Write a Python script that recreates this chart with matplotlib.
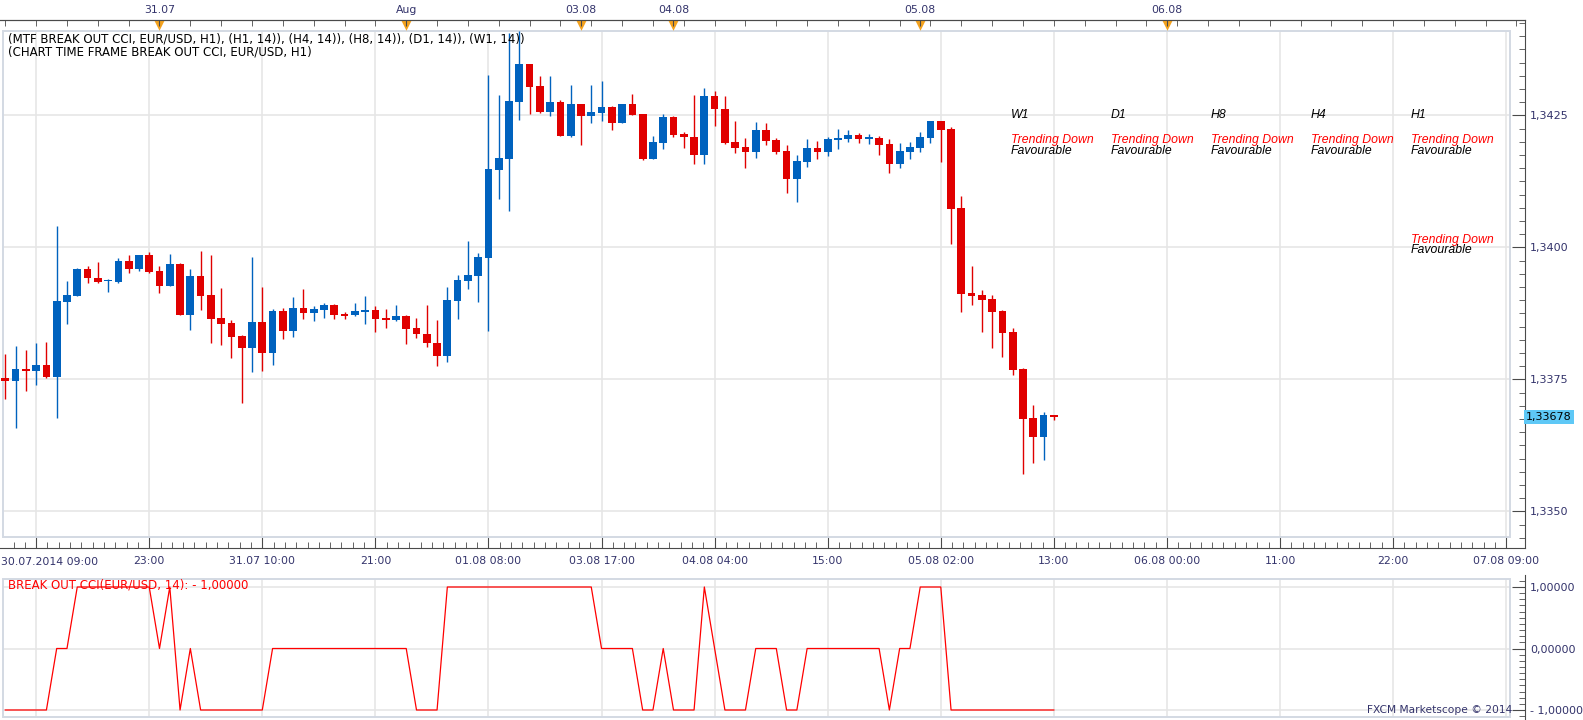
import matplotlib
matplotlib.use('Agg')
import matplotlib.pyplot as plt
import matplotlib.transforms as mtransforms
from matplotlib.patches import Rectangle
from matplotlib.ticker import FixedLocator, MultipleLocator
import numpy as np

# EUR/USD H1 candles (bar index 0..102)
opens = [1.33753, 1.33746, 1.33770, 1.33765, 1.33777, 1.33754, 1.33897, 1.33908, 1.33959, 1.33942,
         1.33936, 1.33935, 1.33974, 1.33958, 1.33985, 1.33955, 1.33927, 1.33968, 1.33872, 1.33946,
         1.33910, 1.33866, 1.33857, 1.33832, 1.33810, 1.33859, 1.33799, 1.33879, 1.33842, 1.33885,
         1.33876, 1.33882, 1.33891, 1.33874, 1.33871, 1.33878, 1.33881, 1.33866, 1.33863, 1.33870,
         1.33847, 1.33836, 1.33819, 1.33795, 1.33898, 1.33937, 1.33946, 1.33980, 1.34147, 1.34168,
         1.34276, 1.34347, 1.34306, 1.34257, 1.34275, 1.34211, 1.34271, 1.34249, 1.34255, 1.34266,
         1.34236, 1.34271, 1.34252, 1.34168, 1.34198, 1.34247, 1.34215, 1.34209, 1.34175, 1.34287,
         1.34262, 1.34199, 1.34190, 1.34181, 1.34222, 1.34203, 1.34182, 1.34130, 1.34162, 1.34188,
         1.34180, 1.34204, 1.34205, 1.34213, 1.34205, 1.34207, 1.34196, 1.34158, 1.34180, 1.34188,
         1.34207, 1.34239, 1.34224, 1.34074, 1.33913, 1.33910, 1.33902, 1.33879, 1.33840, 1.33770,
         1.33677, 1.33641, 1.33682]
closes = [1.33746, 1.33770, 1.33765, 1.33777, 1.33754, 1.33898, 1.33910, 1.33959, 1.33941, 1.33935,
          1.33937, 1.33974, 1.33958, 1.33985, 1.33954, 1.33927, 1.33968, 1.33872, 1.33946, 1.33908,
          1.33865, 1.33855, 1.33831, 1.33810, 1.33859, 1.33799, 1.33879, 1.33842, 1.33885, 1.33876,
          1.33883, 1.33891, 1.33872, 1.33870, 1.33879, 1.33881, 1.33865, 1.33863, 1.33870, 1.33846,
          1.33835, 1.33818, 1.33795, 1.33900, 1.33938, 1.33948, 1.33982, 1.34148, 1.34169, 1.34277,
          1.34347, 1.34304, 1.34257, 1.34275, 1.34211, 1.34271, 1.34249, 1.34256, 1.34266, 1.34236,
          1.34271, 1.34251, 1.34168, 1.34199, 1.34247, 1.34213, 1.34208, 1.34175, 1.34287, 1.34261,
          1.34198, 1.34189, 1.34181, 1.34222, 1.34202, 1.34181, 1.34130, 1.34163, 1.34188, 1.34180,
          1.34205, 1.34207, 1.34213, 1.34205, 1.34206, 1.34194, 1.34158, 1.34182, 1.34190, 1.34209,
          1.34239, 1.34222, 1.34073, 1.33912, 1.33908, 1.33900, 1.33878, 1.33838, 1.33768, 1.33675,
          1.33641, 1.33682, 1.33678]
highs = [1.33798, 1.33813, 1.33806, 1.33819, 1.33821, 1.34040, 1.33936, 1.33960, 1.33965, 1.33972,
         1.33940, 1.33980, 1.33985, 1.33986, 1.33991, 1.33965, 1.33987, 1.33970, 1.33959, 1.33993,
         1.33985, 1.33923, 1.33862, 1.33833, 1.33982, 1.33925, 1.33884, 1.33885, 1.33906, 1.33921,
         1.33889, 1.33894, 1.33892, 1.33878, 1.33895, 1.33908, 1.33889, 1.33884, 1.33891, 1.33871,
         1.33867, 1.33891, 1.33862, 1.33925, 1.33948, 1.34012, 1.33989, 1.34326, 1.34289, 1.34405,
         1.34410, 1.34348, 1.34324, 1.34324, 1.34279, 1.34307, 1.34272, 1.34307, 1.34315, 1.34267,
         1.34272, 1.34290, 1.34253, 1.34211, 1.34253, 1.34248, 1.34219, 1.34289, 1.34302, 1.34296,
         1.34287, 1.34239, 1.34207, 1.34237, 1.34235, 1.34207, 1.34194, 1.34174, 1.34205, 1.34201,
         1.34209, 1.34224, 1.34222, 1.34217, 1.34215, 1.34211, 1.34205, 1.34198, 1.34199, 1.34218,
         1.34240, 1.34240, 1.34228, 1.34097, 1.33965, 1.33919, 1.33910, 1.33881, 1.33847, 1.33771,
         1.33701, 1.33688, 1.33683]
lows = [1.33712, 1.33658, 1.33727, 1.33740, 1.33752, 1.33677, 1.33855, 1.33907, 1.33932, 1.33932,
        1.33915, 1.33932, 1.33952, 1.33955, 1.33952, 1.33914, 1.33926, 1.33871, 1.33843, 1.33881,
        1.33819, 1.33815, 1.33790, 1.33706, 1.33763, 1.33766, 1.33778, 1.33827, 1.33831, 1.33865,
        1.33861, 1.33867, 1.33865, 1.33865, 1.33870, 1.33855, 1.33840, 1.33848, 1.33861, 1.33816,
        1.33829, 1.33812, 1.33776, 1.33783, 1.33865, 1.33921, 1.33897, 1.33842, 1.34092, 1.34068,
        1.34242, 1.34253, 1.34255, 1.34249, 1.34210, 1.34208, 1.34194, 1.34236, 1.34240, 1.34223,
        1.34235, 1.34250, 1.34166, 1.34167, 1.34187, 1.34208, 1.34189, 1.34157, 1.34157, 1.34230,
        1.34196, 1.34179, 1.34151, 1.34170, 1.34194, 1.34177, 1.34102, 1.34086, 1.34152, 1.34167,
        1.34173, 1.34186, 1.34199, 1.34198, 1.34196, 1.34175, 1.34141, 1.34150, 1.34167, 1.34180,
        1.34198, 1.34162, 1.34006, 1.33878, 1.33891, 1.33840, 1.33809, 1.33792, 1.33758, 1.33571,
        1.33592, 1.33597, 1.33672]

# BREAK OUT CCI values per bar
cci = [-1, -1, -1, -1, -1, 0, 0, 1, 1, 1, 1, 1, 1, 1, 1, 0, 1, -1, 0, -1,
       -1, -1, -1, -1, -1, -1, 0, 0, 0, 0, 0, 0, 0, 0, 0, 0, 0, 0, 0, 0,
       -1, -1, -1, 1, 1, 1, 1, 1, 1, 1, 1, 1, 1, 1, 1, 1, 1, 1, 0, 0,
       0, 0, -1, -1, 0, -1, -1, -1, 1, 0, -1, -1, -1, 0, 0, 0, -1, -1, 0, 0,
       0, 0, 0, 0, 0, 0, -1, 0, 0, 1, 1, 1, -1, -1, -1, -1, -1, -1, -1, -1,
       -1, -1, -1]

time_labels = ['30.07.2014 09:00', '23:00', '31.07 10:00', '21:00', '01.08 08:00', '03.08 17:00',
               '04.08 04:00', '15:00', '05.08 02:00', '13:00', '06.08 00:00', '11:00', '22:00',
               '07.08 09:00']
time_bars = [3, 14, 25, 36, 47, 58, 69, 80, 91, 102, 113, 124, 135, 146]
day_labels = ['31.07', 'Aug', '03.08', '04.08', '05.08', '06.08']
day_bars = [15, 39, 56, 65, 89, 113]
price_ticks = [1.3350, 1.3375, 1.3400, 1.3425]
cci_ticks = [-1, 0, 1]
cci_labels = ['- 1,00000', '0,00000', '1,00000']
last_price = 1.33678

tf_names = ['W1', 'D1', 'H8', 'H4', 'H1']
tf_trend = ['Trending Down'] * 5
tf_state = ['Favourable'] * 5

RED = '#e00000'
BLUE = '#0062be'
GRID = '#e6e6e6'
FRAME = '#d3d9e3'
NAVY = '#33336b'
AXC = '#4a4a4a'
FONT = 'DejaVu Sans'

W, H = 1583, 720


def axbox(l, t, r, b):
    return [l / W, 1 - b / H, (r - l) / W, (b - t) / H]


x0, dx = 5.3, 10.28          # pixel of bar 0, pixels per bar


def bx(px):
    return (px - x0) / dx


def py(px):
    return 1.34 + (247.3 - px) / 5.28 * 1e-4


fig = plt.figure(figsize=(W / 100, H / 100), dpi=100)
fig.patch.set_facecolor('white')

# ---------------- main price panel ----------------
ax = fig.add_axes(axbox(0, 20, 1525, 548))
ax.set_xlim(bx(0), bx(1525))
ax.set_ylim(py(548), py(20))

fx0, fx1 = bx(3), bx(1510)
fy0, fy1 = py(537), py(31)
ax.hlines(price_ticks, fx0, fx1, color=GRID, lw=1.2, zorder=1)
ax.vlines(time_bars, fy0, fy1, color=GRID, lw=1.2, zorder=1)
ax.add_patch(Rectangle((fx0, fy0), fx1 - fx0, fy1 - fy0, fill=False, ec=FRAME, lw=1.4, zorder=2))

o = np.array(opens)
c = np.array(closes)
hi = np.array(highs)
lo = np.array(lows)
idx = np.arange(len(o))
cols = np.where(c >= o, BLUE, RED)
ax.vlines(idx, lo, hi, colors=cols, lw=1.0, zorder=3)
body = np.maximum(np.abs(c - o), 0.00003)
ax.bar(idx, body, bottom=np.minimum(o, c), width=0.75, color=cols, lw=0, zorder=4)

for s in ['top', 'right', 'bottom']:
    ax.spines[s].set_color(AXC)
ax.spines['left'].set_visible(False)

ax.yaxis.tick_right()
ax.set_yticks(price_ticks)
ax.set_yticklabels([('%.4f' % p).replace('.', ',') for p in price_ticks])
ax.yaxis.set_minor_locator(MultipleLocator(0.00025))
ax.tick_params(axis='y', which='major', direction='in', length=9.4, color=AXC,
               labelcolor=NAVY, labelsize=8, pad=3.6)
ax.tick_params(axis='y', which='minor', direction='in', length=4.3, color=AXC)
for t in ax.get_yticklabels():
    t.set_family(FONT)

ax.set_xticks(time_bars)
ax.set_xticklabels([''] + time_labels[1:])
ax.xaxis.set_minor_locator(FixedLocator(3 + 1.1 * np.arange(-2, 131)))
ax.tick_params(axis='x', which='major', direction='in', length=8.6, color=AXC,
               labelcolor=NAVY, labelsize=7.8, pad=6)
ax.tick_params(axis='x', which='minor', direction='in', length=4.3, color=AXC)
fig.text(1 / W, 1 - 562 / H, time_labels[0], color=NAVY, fontsize=7.8, family=FONT,
         ha='left', va='center')

# top day axis
axt = ax.twiny()
axt.set_xlim(ax.get_xlim())
for s in ['left', 'right', 'bottom']:
    axt.spines[s].set_visible(False)
axt.spines['top'].set_color(AXC)
axt.set_xticks(day_bars)
axt.set_xticklabels(day_labels)
axt.xaxis.set_minor_locator(FixedLocator(np.arange(0, 148, 3)))
axt.tick_params(axis='x', which='both', direction='in', length=4.0, color=AXC,
                labelcolor=NAVY, labelsize=7.8, pad=3.5)
ax.scatter(day_bars, [py(25)] * len(day_bars), marker='v', s=58, color='#f4a21e',
           lw=0, zorder=6, clip_on=False)

# last price marker
blend = mtransforms.blended_transform_factory(ax.transAxes, ax.transData)
ax.text(1.0007, last_price, ('%.5f' % last_price).replace('.', ','), transform=blend,
        ha='left', va='center', fontsize=8, family=FONT, color='black',
        bbox=dict(boxstyle='square,pad=0.18', fc='#5ec8f6', ec='none'))

# indicator texts
fig.text(8 / W, 1 - 39 / H,
         '(MTF BREAK OUT CCI, EUR/USD, H1), (H1, 14)), (H4, 14)), (H8, 14)), (D1, 14)), (W1, 14))',
         fontsize=8.5, family=FONT, color='black', va='center')
fig.text(8 / W, 1 - 52 / H, '(CHART TIME FRAME BREAK OUT CCI, EUR/USD, H1)',
         fontsize=8.5, family=FONT, color='black', va='center')

col_x = [1011, 1111, 1211, 1311, 1411]
for xp, name, tr, st in zip(col_x, tf_names, tf_trend, tf_state):
    fig.text(xp / W, 1 - 115 / H, name, fontsize=8.8, family='Liberation Sans',
             style='italic', color='black', va='center')
    fig.text(xp / W, 1 - 140.5 / H, tr, fontsize=8.8, family='Liberation Sans',
             style='italic', color='#ff0000', va='center')
    fig.text(xp / W, 1 - 150.5 / H, st, fontsize=8.8, family='Liberation Sans',
             style='italic', color='black', va='center')
fig.text(1411 / W, 1 - 240 / H, tf_trend[-1], fontsize=8.8, family='Liberation Sans',
         style='italic', color='#ff0000', va='center')
fig.text(1411 / W, 1 - 250 / H, tf_state[-1], fontsize=8.8, family='Liberation Sans',
         style='italic', color='black', va='center')

# ---------------- indicator panel ----------------
ax2 = fig.add_axes(axbox(0, 575, 1525, 720))
ax2.set_xlim(ax.get_xlim())
ax2.set_ylim(-1 - 10 / 61.5, 1 + 12 / 61.5)
gy0, gy1 = -1 - 7 / 61.5, 1 + 8 / 61.5
ax2.hlines(cci_ticks, fx0, fx1, color=GRID, lw=1.2, zorder=1)
ax2.vlines(time_bars, gy0, gy1, color=GRID, lw=1.2, zorder=1)
ax2.add_patch(Rectangle((fx0, gy0), fx1 - fx0, gy1 - gy0, fill=False, ec=FRAME, lw=1.4, zorder=2))
ax2.plot(idx, cci, color='#ff0000', lw=0.9, zorder=4)

for s in ['top', 'left', 'bottom']:
    ax2.spines[s].set_visible(False)
ax2.spines['right'].set_color(AXC)
ax2.set_xticks([])
ax2.yaxis.tick_right()
ax2.set_yticks(cci_ticks)
ax2.set_yticklabels(cci_labels)
ax2.yaxis.set_minor_locator(MultipleLocator(0.1))
ax2.tick_params(axis='y', which='major', direction='in', length=9.4, color=AXC,
                labelcolor=NAVY, labelsize=8, pad=3.6)
ax2.tick_params(axis='y', which='minor', direction='in', length=4.3, color=AXC)

fig.text(8 / W, 1 - 585 / H, 'BREAK OUT CCI(EUR/USD, 14): - 1,00000', fontsize=8.5,
         family=FONT, color='#ff0000', va='center', zorder=5)
fig.text(1512 / W, 1 - 710 / H, 'FXCM Marketscope \u00a9 2014', fontsize=7.7,
         family=FONT, color=NAVY, ha='right', va='center')

fig.savefig('out.png', dpi=100, facecolor='white')
